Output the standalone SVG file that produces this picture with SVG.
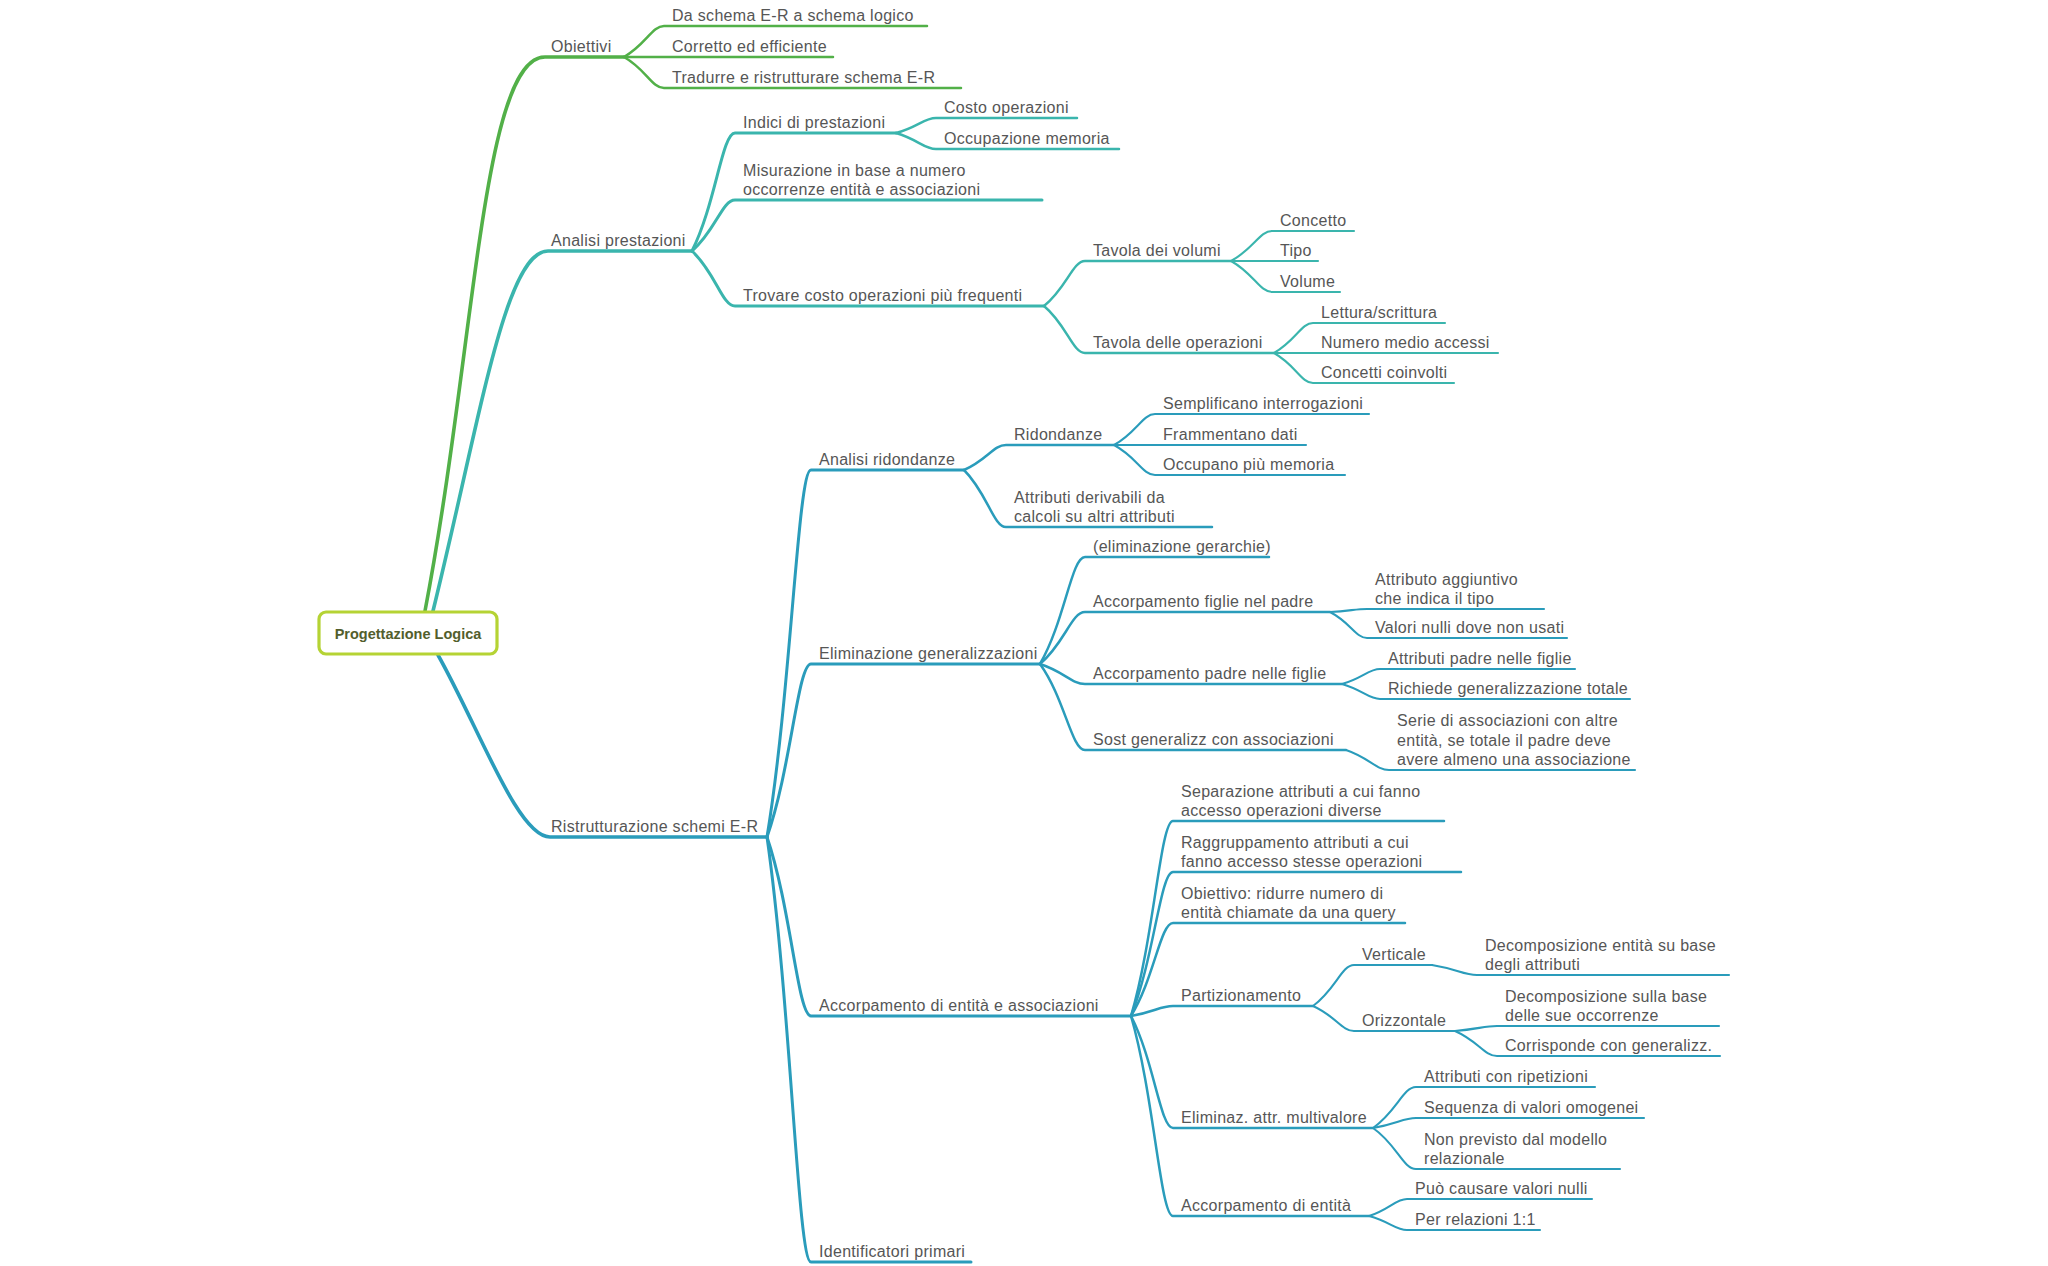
<svg xmlns="http://www.w3.org/2000/svg" width="2048" height="1266" viewBox="0 0 2048 1266">
<style>
.t{font-family:"Liberation Sans",Arial,sans-serif;font-size:16px;fill:#565656;letter-spacing:0.3px}
.root{font-family:"Liberation Sans",Arial,sans-serif;font-size:14.5px;font-weight:bold;fill:#525e2c}
.c{fill:none;stroke-linecap:round;stroke-linejoin:round}
.g{stroke:#52b048}
.tl{stroke:#3ab5ad}
.b{stroke:#2a9cbb}
.w1{stroke-width:3.6}
.w2{stroke-width:3}
.w3{stroke-width:2.5}
.w4{stroke-width:2.1}
</style>
<rect width="2048" height="1266" fill="#ffffff"/>
<g id="connectors">
<path class="c g w1" d="M425,611 C475,350 482,57 545,57 L624,57"/>
<path class="c tl w1" d="M433,611 C480,420 505,251 548,251 L692,251"/>
<path class="c b w1" d="M438,655 C480,730 518,837 550,837 L767,837"/>
<path class="c g w3" d="M624,57 C646,44.6 652,26 664,26 L927,26"/>
<path class="c g w3" d="M624,57 L833,57"/>
<path class="c g w3" d="M624,57 C646,69.4 652,88 664,88 L961,88"/>
<path class="c tl w2" d="M692,251 C715.7,203.8 722.1,133 735,133 L896,133"/>
<path class="c tl w2" d="M692,251 C715.7,230.6 722.1,200 735,200 L1042,200"/>
<path class="c tl w2" d="M692,251 C715.7,273 722.1,306 735,306 L1044,306"/>
<path class="c tl w3" d="M896,133 C918,127 924,118 936,118 L1077,118"/>
<path class="c tl w3" d="M896,133 C918,139.4 924,149 936,149 L1119,149"/>
<path class="c tl w3" d="M1044,306 C1066.6,288 1072.7,261 1085,261 L1231,261"/>
<path class="c tl w3" d="M1044,306 C1066.6,324.8 1072.7,353 1085,353 L1274,353"/>
<path class="c tl w4" d="M1231,261 C1253.6,249 1259.7,231 1272,231 L1354,231"/>
<path class="c tl w4" d="M1231,261 L1318,261"/>
<path class="c tl w4" d="M1231,261 C1253.6,273.4 1259.7,292 1272,292 L1340,292"/>
<path class="c tl w4" d="M1274,353 C1295.5,341 1301.3,323 1313,323 L1445,323"/>
<path class="c tl w4" d="M1274,353 L1498,353"/>
<path class="c tl w4" d="M1274,353 C1295.5,365 1301.3,383 1313,383 L1454,383"/>
<path class="c b w2" d="M767,837 C791.2,690.2 797.8,470 811,470 L964,470"/>
<path class="c b w2" d="M767,837 C791.2,767.8 797.8,664 811,664 L1040,664"/>
<path class="c b w2" d="M767,837 C791.2,908.6 797.8,1016 811,1016 L1131,1016"/>
<path class="c b w2" d="M767,837 C791.2,1007 797.8,1262 811,1262 L971,1262"/>
<path class="c b w3" d="M964,470 C987.1,460 993.4,445 1006,445 L1114,445"/>
<path class="c b w3" d="M964,470 C987.1,492.8 993.4,527 1006,527 L1212,527"/>
<path class="c b w4" d="M1114,445 C1136.6,432.6 1142.7,414 1155,414 L1369,414"/>
<path class="c b w4" d="M1114,445 L1306,445"/>
<path class="c b w4" d="M1114,445 C1136.6,457 1142.7,475 1155,475 L1345,475"/>
<path class="c b w3" d="M1040,664 C1064.75,621.2 1071.5,557 1085,557 L1269,557"/>
<path class="c b w3" d="M1040,664 C1064.75,643.2 1071.5,612 1085,612 L1330,612"/>
<path class="c b w3" d="M1040,664 C1064.75,672 1071.5,684 1085,684 L1342,684"/>
<path class="c b w3" d="M1040,664 C1064.75,698.4 1071.5,750 1085,750 L1346,750"/>
<path class="c b w4" d="M1330,612 C1350.4,610.8 1355.9,609 1367,609 L1544,609"/>
<path class="c b w4" d="M1330,612 C1350.4,622.4 1355.9,638 1367,638 L1567,638"/>
<path class="c b w4" d="M1342,684 C1362.9,678 1368.6,669 1380,669 L1575,669"/>
<path class="c b w4" d="M1342,684 C1362.9,690 1368.6,699 1380,699 L1630,699"/>
<path class="c b w4" d="M1346,750 C1369.7,758 1376.1,770 1389,770 L1635,770"/>
<path class="c b w3" d="M1131,1016 C1154.1,938 1160.4,821 1173,821 L1444,821"/>
<path class="c b w3" d="M1131,1016 C1154.1,958.4 1160.4,872 1173,872 L1461,872"/>
<path class="c b w3" d="M1131,1016 C1154.1,978.8 1160.4,923 1173,923 L1405,923"/>
<path class="c b w3" d="M1131,1016 C1154.1,1012 1160.4,1006 1173,1006 L1313,1006"/>
<path class="c b w3" d="M1131,1016 C1154.1,1060.8 1160.4,1128 1173,1128 L1373,1128"/>
<path class="c b w3" d="M1131,1016 C1154.1,1096 1160.4,1216 1173,1216 L1369,1216"/>
<path class="c b w4" d="M1313,1006 C1335.6,989.6 1341.7,965 1354,965 L1432,965"/>
<path class="c b w4" d="M1313,1006 C1335.6,1016 1341.7,1031 1354,1031 L1455,1031"/>
<path class="c b w4" d="M1432,965 C1456.75,969 1463.5,975 1477,975 L1729,975"/>
<path class="c b w4" d="M1455,1031 C1478.1,1029 1484.4,1026 1497,1026 L1719,1026"/>
<path class="c b w4" d="M1455,1031 C1478.1,1041 1484.4,1056 1497,1056 L1720,1056"/>
<path class="c b w4" d="M1373,1128 C1396.7,1111.6 1403.1,1087 1416,1087 L1595,1087"/>
<path class="c b w4" d="M1373,1128 C1396.7,1124 1403.1,1118 1416,1118 L1644,1118"/>
<path class="c b w4" d="M1373,1128 C1396.7,1144.4 1403.1,1169 1416,1169 L1620,1169"/>
<path class="c b w4" d="M1369,1216 C1389.9,1209.2 1395.6,1199 1407,1199 L1592,1199"/>
<path class="c b w4" d="M1369,1216 C1389.9,1221.6 1395.6,1230 1407,1230 L1540,1230"/>
</g>
<g id="root">
<rect x="319" y="612" width="178" height="42" rx="7" ry="7" fill="#ffffff" stroke="#b5d334" stroke-width="3.2"/>
<text class="root" x="408" y="638.5" text-anchor="middle">Progettazione Logica</text>
</g>
<g id="n-obiettivi"><text class="t" x="551" y="52">Obiettivi</text></g>
<g id="n-da-schema"><text class="t" x="672" y="21">Da schema E-R a schema logico</text></g>
<g id="n-corretto"><text class="t" x="672" y="52">Corretto ed efficiente</text></g>
<g id="n-tradurre"><text class="t" x="672" y="83">Tradurre e ristrutturare schema E-R</text></g>
<g id="n-analisi-prestazioni"><text class="t" x="551" y="246">Analisi prestazioni</text></g>
<g id="n-indici"><text class="t" x="743" y="128">Indici di prestazioni</text></g>
<g id="n-costo"><text class="t" x="944" y="113">Costo operazioni</text></g>
<g id="n-occupazione"><text class="t" x="944" y="144">Occupazione memoria</text></g>
<g id="n-misurazione"><text class="t" x="743" y="175.5">Misurazione in base a numero</text><text class="t" x="743" y="195">occorrenze entità e associazioni</text></g>
<g id="n-trovare"><text class="t" x="743" y="301">Trovare costo operazioni più frequenti</text></g>
<g id="n-tavola-volumi"><text class="t" x="1093" y="256">Tavola dei volumi</text></g>
<g id="n-concetto"><text class="t" x="1280" y="226">Concetto</text></g>
<g id="n-tipo"><text class="t" x="1280" y="256">Tipo</text></g>
<g id="n-volume"><text class="t" x="1280" y="287">Volume</text></g>
<g id="n-tavola-operazioni"><text class="t" x="1093" y="348">Tavola delle operazioni</text></g>
<g id="n-lettura"><text class="t" x="1321" y="318">Lettura/scrittura</text></g>
<g id="n-numero"><text class="t" x="1321" y="348">Numero medio accessi</text></g>
<g id="n-concetti"><text class="t" x="1321" y="378">Concetti coinvolti</text></g>
<g id="n-ristrutturazione"><text class="t" x="551" y="832">Ristrutturazione schemi E-R</text></g>
<g id="n-analisi-ridondanze"><text class="t" x="819" y="465">Analisi ridondanze</text></g>
<g id="n-ridondanze"><text class="t" x="1014" y="440">Ridondanze</text></g>
<g id="n-semplificano"><text class="t" x="1163" y="409">Semplificano interrogazioni</text></g>
<g id="n-frammentano"><text class="t" x="1163" y="440">Frammentano dati</text></g>
<g id="n-occupano"><text class="t" x="1163" y="470">Occupano più memoria</text></g>
<g id="n-attributi-derivabili"><text class="t" x="1014" y="502.5">Attributi derivabili da</text><text class="t" x="1014" y="522">calcoli su altri attributi</text></g>
<g id="n-eliminazione-gen"><text class="t" x="819" y="659">Eliminazione generalizzazioni</text></g>
<g id="n-eliminazione-gerarchie"><text class="t" x="1093" y="552">(eliminazione gerarchie)</text></g>
<g id="n-figlie-padre"><text class="t" x="1093" y="607">Accorpamento figlie nel padre</text></g>
<g id="n-attributo-aggiuntivo"><text class="t" x="1375" y="584.5">Attributo aggiuntivo</text><text class="t" x="1375" y="604">che indica il tipo</text></g>
<g id="n-valori-nulli"><text class="t" x="1375" y="633">Valori nulli dove non usati</text></g>
<g id="n-padre-figlie"><text class="t" x="1093" y="679">Accorpamento padre nelle figlie</text></g>
<g id="n-attributi-padre"><text class="t" x="1388" y="664">Attributi padre nelle figlie</text></g>
<g id="n-richiede"><text class="t" x="1388" y="694">Richiede generalizzazione totale</text></g>
<g id="n-sost"><text class="t" x="1093" y="745">Sost generalizz con associazioni</text></g>
<g id="n-serie"><text class="t" x="1397" y="726">Serie di associazioni con altre</text><text class="t" x="1397" y="745.5">entità, se totale il padre deve</text><text class="t" x="1397" y="765">avere almeno una associazione</text></g>
<g id="n-accorpamento-ea"><text class="t" x="819" y="1011">Accorpamento di entità e associazioni</text></g>
<g id="n-separazione"><text class="t" x="1181" y="796.5">Separazione attributi a cui fanno</text><text class="t" x="1181" y="816">accesso operazioni diverse</text></g>
<g id="n-raggruppamento"><text class="t" x="1181" y="847.5">Raggruppamento attributi a cui</text><text class="t" x="1181" y="867">fanno accesso stesse operazioni</text></g>
<g id="n-obiettivo"><text class="t" x="1181" y="898.5">Obiettivo: ridurre numero di</text><text class="t" x="1181" y="918">entità chiamate da una query</text></g>
<g id="n-partizionamento"><text class="t" x="1181" y="1001">Partizionamento</text></g>
<g id="n-verticale"><text class="t" x="1362" y="960">Verticale</text></g>
<g id="n-decomp-entita"><text class="t" x="1485" y="950.5">Decomposizione entità su base</text><text class="t" x="1485" y="970">degli attributi</text></g>
<g id="n-orizzontale"><text class="t" x="1362" y="1026">Orizzontale</text></g>
<g id="n-decomp-base"><text class="t" x="1505" y="1001.5">Decomposizione sulla base</text><text class="t" x="1505" y="1021">delle sue occorrenze</text></g>
<g id="n-corrisponde"><text class="t" x="1505" y="1051">Corrisponde con generalizz.</text></g>
<g id="n-eliminaz-multivalore"><text class="t" x="1181" y="1123">Eliminaz. attr. multivalore</text></g>
<g id="n-attributi-ripetizioni"><text class="t" x="1424" y="1082">Attributi con ripetizioni</text></g>
<g id="n-sequenza"><text class="t" x="1424" y="1113">Sequenza di valori omogenei</text></g>
<g id="n-non-previsto"><text class="t" x="1424" y="1144.5">Non previsto dal modello</text><text class="t" x="1424" y="1164">relazionale</text></g>
<g id="n-accorpamento-entita"><text class="t" x="1181" y="1211">Accorpamento di entità</text></g>
<g id="n-puo-causare"><text class="t" x="1415" y="1194">Può causare valori nulli</text></g>
<g id="n-per-relazioni"><text class="t" x="1415" y="1225">Per relazioni 1:1</text></g>
<g id="n-identificatori"><text class="t" x="819" y="1257">Identificatori primari</text></g>
</svg>
